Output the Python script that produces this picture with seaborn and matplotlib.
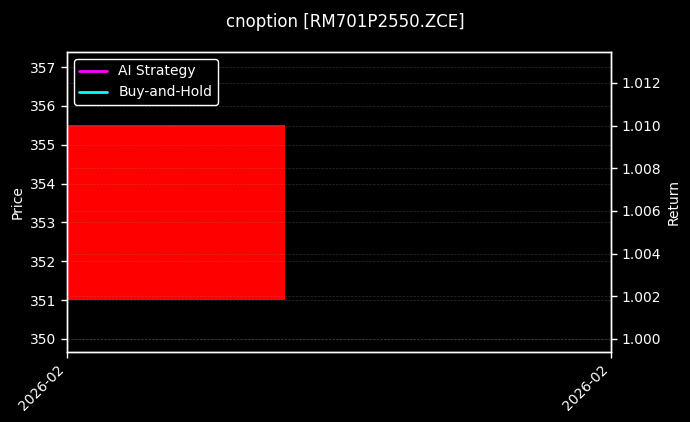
import matplotlib
matplotlib.use("Agg")
import matplotlib.pyplot as plt
import matplotlib.dates as mdates
from matplotlib.lines import Line2D
import numpy as np
import pandas as pd
import seaborn as sns

# Data
dates = pd.to_datetime(["2026-02-02"])
open_px = [355.5]
close_px = [351.0]
ai_strategy = [1.0]
buy_hold = [1.0]
series_names = ["AI Strategy", "Buy-and-Hold"]

sns.set_style("dark")
plt.rcParams['font.family'] = ['DejaVu Sans']
plt.rcParams.update({
    "figure.facecolor": "black", "axes.facecolor": "black",
    "text.color": "white", "axes.labelcolor": "white",
    "xtick.color": "white", "ytick.color": "white",
    "axes.edgecolor": "white",
})

fig = plt.figure(figsize=(6.9, 4.22), dpi=100)
ax = fig.add_axes([0.097, 0.166, 0.7885, 0.7108])
ax.set_facecolor("black")
ax.set_axisbelow(False)

x = mdates.date2num(dates)
bottoms = [min(o, c) for o, c in zip(open_px, close_px)]
heights = [abs(o - c) for o, c in zip(open_px, close_px)]
colors = ["red" if c < o else "lime" for o, c in zip(open_px, close_px)]
ax.bar(x, heights, bottom=bottoms, width=0.8, color=colors, edgecolor="none",
       linewidth=0, zorder=2)
ax.set_xlim(x[0], x[0] + 1)
ax.set_ylim(349.665, 357.39)
ax.set_yticks(np.arange(350, 358, 1))
ax.set_ylabel("Price")
ax.grid(True, axis="y", color="gray", linestyle="--", linewidth=0.5, alpha=0.35)
ax.grid(False, axis="x")

ax2 = ax.twinx()
ax2.patch.set_visible(False)
df = pd.DataFrame({"date": np.concatenate([x, x]),
                   "ret": ai_strategy + buy_hold,
                   "series": [series_names[0]] * len(ai_strategy) + [series_names[1]] * len(buy_hold)})
sns.lineplot(data=df, x="date", y="ret", hue="series",
             palette={"AI Strategy": "magenta", "Buy-and-Hold": "cyan"},
             linewidth=2, ax=ax2, legend=False)
rt = np.round(np.arange(1.000, 1.0121, 0.002), 3)
ax2.set_ylim(0.99939, 1.01345)
ax2.set_yticks(rt)
ax2.set_yticklabels([f"{v:.3f}" for v in rt])
ax2.set_ylabel("Return")
ax2.set_xlabel("")
ax2.set_axisbelow(False)
ax2.grid(True, axis="y", color="gray", linestyle="--", linewidth=0.5, alpha=0.35)
ax2.grid(False, axis="x")
ax2.set_xlim(x[0], x[0] + 1)
for a in (ax, ax2):
    for s in a.spines.values():
        s.set_color("white")
        s.set_linewidth(1)
    a.tick_params(axis="both", which="both", length=4, width=1, colors="white", labelsize=10)

ax.set_xticks([x[0], x[0] + 1])
ax.xaxis.set_major_formatter(mdates.DateFormatter("%Y-%m"))
ax.tick_params(axis="x", bottom=True, labelbottom=True, labelrotation=45)
plt.setp(ax.get_xticklabels(), ha="right")
ax2.tick_params(axis="x", labelbottom=False, bottom=False)

handles = [Line2D([], [], color="magenta", lw=2), Line2D([], [], color="cyan", lw=2)]
leg = ax2.legend(handles, series_names, loc="upper left",
                 facecolor="black", edgecolor="white", labelcolor="white", fontsize=10)
leg.get_frame().set_alpha(1)

fig.suptitle("cnoption [RM701P2550.ZCE]", fontsize=12, color="white", y=0.97)
fig.savefig("out.png", dpi=100, facecolor="black")
